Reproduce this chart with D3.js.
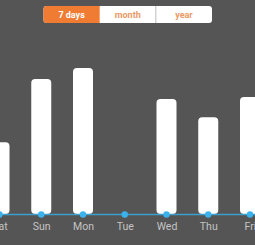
<!DOCTYPE html>
<html>
<head>
<meta charset="utf-8">
<script src="https://cdn.jsdelivr.net/npm/d3@7"></script>
<style>
  html, body { margin: 0; padding: 0; background: #555555; overflow: hidden; }
  svg { display: block; }
</style>
</head>
<body>
<script>
const width = 255;
const height = 245;
const baseY = 214.5;

// Data
const days = ["Sat", "Sun", "Mon", "Tue", "Wed", "Thu", "Fri"];
const values = [72, 135, 146, 0, 115, 97, 117];
const ranges = ["7 days", "month", "year"];
const activeRange = "7 days";

const svg = d3.select("body")
  .append("svg")
  .attr("width", width)
  .attr("height", height)
  .attr("viewBox", [0, 0, width, height]);

svg.append("rect")
  .attr("width", width)
  .attr("height", height)
  .attr("fill", "#555555");

// Scales
const x = d3.scalePoint(days, [-0.5, 250]);
const y = d3.scaleLinear([0, 146], [baseY, 68]);

// Bars
const barWidth = 20;
svg.append("g")
  .selectAll("rect")
  .data(days.map((d, i) => ({ day: d, value: values[i] })).filter((d) => d.value > 0))
  .join("rect")
  .attr("x", (d) => x(d.day) - barWidth / 2)
  .attr("y", (d) => y(d.value))
  .attr("width", barWidth)
  .attr("height", (d) => baseY - 0.5 - y(d.value))
  .attr("rx", 4)
  .attr("fill", "#ffffff");

// Baseline
svg.append("line")
  .attr("x1", 0)
  .attr("x2", width)
  .attr("y1", baseY)
  .attr("y2", baseY)
  .attr("stroke", "#3d9fd0")
  .attr("stroke-width", 1.5);

// Dots
svg.append("g")
  .selectAll("circle")
  .data(days)
  .join("circle")
  .attr("cx", (d) => x(d))
  .attr("cy", baseY)
  .attr("r", 3.2)
  .attr("fill", "#3bb2ec");

// Day labels
svg.append("g")
  .attr("transform", `translate(0,${baseY})`)
  .call(d3.axisBottom(x).tickSize(0).tickPadding(8))
  .call((g) => g.select(".domain").remove())
  .call((g) => g.selectAll("text")
    .attr("fill", "#c4c4c4")
    .attr("font-family", "Roboto, sans-serif")
    .attr("font-size", 10.5));

// Range toggle
const bx = d3.scaleBand(ranges, [43.5, 212]);
const btnY = 6;
const btnH = 17;
const toggle = svg.append("g");

toggle.append("rect")
  .attr("x", 43.5)
  .attr("y", btnY)
  .attr("width", 212 - 43.5)
  .attr("height", btnH)
  .attr("rx", 3)
  .attr("fill", "#ffffff");

toggle.append("path")
  .attr("d", () => {
    const x0 = bx(activeRange), x1 = x0 + bx.bandwidth(), r = 3;
    return `M${x0 + r},${btnY}H${x1}V${btnY + btnH}H${x0 + r}A${r},${r} 0 0 1 ${x0},${btnY + btnH - r}V${btnY + r}A${r},${r} 0 0 1 ${x0 + r},${btnY}Z`;
  })
  .attr("fill", "#f07b33");

toggle.selectAll("line")
  .data(ranges.slice(2))
  .join("line")
  .attr("x1", (d) => bx(d))
  .attr("x2", (d) => bx(d))
  .attr("y1", btnY)
  .attr("y2", btnY + btnH)
  .attr("stroke", "#bdbdbd")
  .attr("stroke-width", 1);

toggle.selectAll("text")
  .data(ranges)
  .join("text")
  .attr("x", (d) => bx(d) + bx.bandwidth() / 2)
  .attr("y", btnY + btnH / 2 + 3.3)
  .attr("text-anchor", "middle")
  .attr("font-family", "Roboto, sans-serif")
  .attr("font-weight", "bold")
  .attr("font-size", 9)
  .attr("fill", (d) => d === activeRange ? "#ffffff" : "#e99a66")
  .text((d) => d);
</script>
</body>
</html>
